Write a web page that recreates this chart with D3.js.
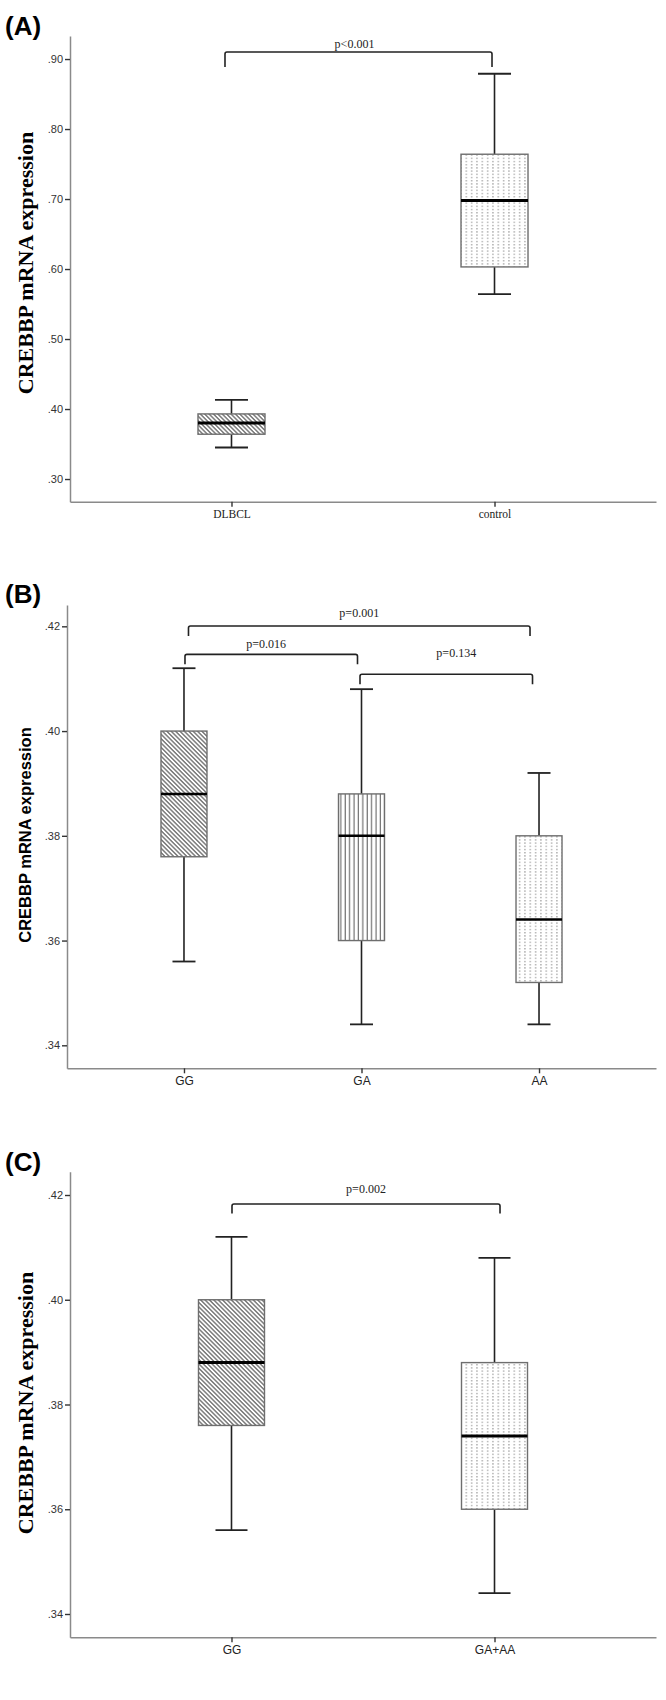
<!DOCTYPE html>
<html>
<head>
<meta charset="utf-8">
<script src="https://cdn.jsdelivr.net/npm/d3@7"></script>
<style>
  html, body { margin: 0; padding: 0; background: #fff; }
  svg { display: block; }
</style>
</head>
<body>
<svg id="chart" width="666" height="1700"></svg>
<script>
// ---------- DATA ----------
const catsA = ["DLBCL", "control"];
const minA  = [0.345, 0.564];
const q1A   = [0.364, 0.603];
const medA  = [0.380, 0.698];
const q3A   = [0.393, 0.764];
const maxA  = [0.413, 0.879];
const ticksA = [0.30, 0.40, 0.50, 0.60, 0.70, 0.80, 0.90];

const catsB = ["GG", "GA", "AA"];
const minB  = [0.356, 0.344, 0.344];
const q1B   = [0.376, 0.360, 0.352];
const medB  = [0.388, 0.380, 0.364];
const q3B   = [0.400, 0.388, 0.380];
const maxB  = [0.412, 0.408, 0.392];
const ticksB = [0.34, 0.36, 0.38, 0.40, 0.42];

const catsC = ["GG", "GA+AA"];
const minC  = [0.356, 0.344];
const q1C   = [0.376, 0.360];
const medC  = [0.388, 0.374];
const q3C   = [0.400, 0.388];
const maxC  = [0.412, 0.408];
const ticksC = [0.34, 0.36, 0.38, 0.40, 0.42];

const patternsA = ["diag", "dots"];
const patternsB = ["diag", "vert", "dots"];
const patternsC = ["diag", "dots"];

const bracketsA = [{ a: "DLBCL", b: "control", level: 0.910, textLevel: 0.9214, text: "p<0.001" }];
const bracketsB = [
  { a: "GG", b: "AA", level: 0.42006, textLevel: 0.42254, text: "p=0.001" },
  { a: "GG", b: "GA", level: 0.41465, textLevel: 0.41675, text: "p=0.016" },
  { a: "GA", b: "AA", level: 0.41084, textLevel: 0.41485, text: "p=0.134" }
];
const bracketsC = [{ a: "GG", b: "GA+AA", level: 0.41828, textLevel: 0.42115, text: "p=0.002" }];

const yTitle = "CREBBP mRNA expression";

// ---------- DRAW ----------
const svg = d3.select("#chart");
svg.append("rect").attr("width", 666).attr("height", 1700).attr("fill", "#fff");

const defs = svg.append("defs");
// diagonal hatch "\\"
const pd = defs.append("pattern").attr("id", "diag").attr("patternUnits", "userSpaceOnUse")
  .attr("width", 3.1).attr("height", 6).attr("patternTransform", "rotate(-45)");
pd.append("rect").attr("width", 3.1).attr("height", 6).attr("fill", "#fff");
pd.append("line").attr("x1", 0.8).attr("x2", 0.8).attr("y1", 0).attr("y2", 6)
  .attr("stroke", "#555").attr("stroke-width", 1.15);
// vertical lines
const pv = defs.append("pattern").attr("id", "vert").attr("patternUnits", "userSpaceOnUse")
  .attr("width", 4.4).attr("height", 4);
pv.append("rect").attr("width", 4.4).attr("height", 4).attr("fill", "#fff");
pv.append("line").attr("x1", 2).attr("x2", 2).attr("y1", 0).attr("y2", 4)
  .attr("stroke", "#555").attr("stroke-width", 1);
// dotted columns
const pdots = defs.append("pattern").attr("id", "dots").attr("patternUnits", "userSpaceOnUse")
  .attr("width", 5.33).attr("height", 3.2);
pdots.append("rect").attr("width", 5.33).attr("height", 3.2).attr("fill", "#fff");
pdots.append("rect").attr("x", 2).attr("y", 0.8).attr("width", 1.2).attr("height", 1.4).attr("fill", "#9a9a9a");

function drawPanel(cfg) {
  const g = svg.append("g");
  const y = d3.scaleLinear().domain(cfg.yDomain).range([cfg.bottom, cfg.top]);
  const x = d3.scalePoint().domain(cfg.cats).range([cfg.left, cfg.right]).padding(cfg.pad);

  // panel letter
  g.append("text").attr("x", 5).attr("y", cfg.letterY)
    .attr("font-family", "Liberation Sans, Arial, sans-serif").attr("font-weight", "bold")
    .attr("font-size", 26).attr("fill", "#000").text(cfg.letter);

  // y axis
  const yAxis = d3.axisLeft(y).tickValues(cfg.ticks)
    .tickFormat(d => d3.format(".2f")(d).replace(/^0/, "")).tickSize(5).tickSizeOuter(0).tickPadding(2);
  const ya = g.append("g").attr("transform", `translate(${cfg.left},0)`).call(yAxis);
  ya.select(".domain").attr("stroke", "#8a8a8a").attr("stroke-width", 1.5);
  ya.selectAll(".tick line").attr("stroke", "#333").attr("stroke-width", 1.4);
  ya.selectAll(".tick text").attr("font-family", "Liberation Sans Narrow, Arial Narrow, Liberation Sans, sans-serif")
    .attr("font-size", 11).attr("fill", "#333");

  // x axis
  const xAxis = d3.axisBottom(x).tickSize(5).tickSizeOuter(0).tickPadding(3);
  const xa = g.append("g").attr("transform", `translate(0,${cfg.bottom})`).call(xAxis);
  xa.select(".domain").attr("stroke", "#8a8a8a").attr("stroke-width", 1.5);
  xa.selectAll(".tick line").attr("stroke", "#333").attr("stroke-width", 1.4);
  xa.selectAll(".tick text").attr("font-family", cfg.catFont)
    .attr("font-size", cfg.catSize).attr("fill", "#222");

  // y title
  g.append("text")
    .attr("transform", `translate(${cfg.titleX},${cfg.titleY}) rotate(-90)`)
    .attr("text-anchor", "middle").attr("dominant-baseline", "central")
    .attr("font-family", cfg.titleFont).attr("font-weight", "bold")
    .attr("font-size", cfg.titleSize).attr("fill", "#000").text(yTitle);

  // boxes
  cfg.cats.forEach((c, i) => {
    const cx = x(c);
    const bg = g.append("g");
    // whiskers
    bg.append("line").attr("x1", cx).attr("x2", cx).attr("y1", y(cfg.max[i])).attr("y2", y(cfg.q3[i]))
      .attr("stroke", "#222").attr("stroke-width", 1.6);
    bg.append("line").attr("x1", cx).attr("x2", cx).attr("y1", y(cfg.q1[i])).attr("y2", y(cfg.min[i]))
      .attr("stroke", "#222").attr("stroke-width", 1.6);
    // caps
    [cfg.max[i], cfg.min[i]].forEach(v => {
      bg.append("line").attr("x1", cx - cfg.capW).attr("x2", cx + cfg.capW)
        .attr("y1", y(v)).attr("y2", y(v)).attr("stroke", "#222").attr("stroke-width", 1.8);
    });
    // box
    bg.append("rect").attr("x", cx - cfg.boxW).attr("width", 2 * cfg.boxW)
      .attr("y", y(cfg.q3[i])).attr("height", y(cfg.q1[i]) - y(cfg.q3[i]))
      .attr("fill", `url(#${cfg.patterns[i]})`).attr("stroke", "#6e6e6e").attr("stroke-width", 1.4);
    // median
    bg.append("line").attr("x1", cx - cfg.boxW).attr("x2", cx + cfg.boxW)
      .attr("y1", y(cfg.med[i])).attr("y2", y(cfg.med[i]))
      .attr("stroke", "#000").attr("stroke-width", cfg.medW);
  });

  // brackets
  cfg.brackets.forEach((b, k) => {
    const off = cfg.bracketOffsets[k];
    const x1 = x(b.a) + off[0], x2 = x(b.b) + off[1];
    const yy = y(b.level);
    const leg = cfg.legLen;
    g.append("path")
      .attr("d", `M${x1},${yy + leg} L${x1},${yy + 2} Q${x1},${yy} ${x1 + 2},${yy} L${x2 - 2},${yy} Q${x2},${yy} ${x2},${yy + 2} L${x2},${yy + leg}`)
      .attr("fill", "none").attr("stroke", "#222").attr("stroke-width", 1.6);
    g.append("text").attr("x", (x1 + x2) / 2 + off[2]).attr("y", y(b.textLevel))
      .attr("dy", "0.35em").attr("text-anchor", "middle")
      .attr("font-family", "Liberation Serif, Times New Roman, serif")
      .attr("font-size", 12).attr("fill", "#222").text(b.text);
  });
}

drawPanel({
  letter: "(A)", letterY: 35,
  cats: catsA, min: minA, q1: q1A, med: medA, q3: q3A, max: maxA, ticks: ticksA,
  patterns: patternsA, brackets: bracketsA,
  bracketOffsets: [[-6.5, -2.5, -4]], legLen: 15,
  yDomain: [0.2676, 0.9329], top: 36, bottom: 501.7,
  left: 70, right: 656, pad: 0.614,
  boxW: 33.5, capW: 16.5, medW: 3,
  catFont: "Liberation Serif, Times New Roman, serif", catSize: 11.5,
  titleFont: "Liberation Serif, Times New Roman, serif", titleSize: 22, titleX: 25, titleY: 263
});

drawPanel({
  letter: "(B)", letterY: 603,
  cats: catsB, min: minB, q1: q1B, med: medB, q3: q3B, max: maxB, ticks: ticksB,
  patterns: patternsB, brackets: bracketsB,
  bracketOffsets: [[4.5, -9, 0], [1, -4, -5], [-1.5, -6.5, 10]], legLen: 10,
  yDomain: [0.33561, 0.42407], top: 605, bottom: 1068.3,
  left: 67, right: 656, pad: 0.659,
  boxW: 23, capW: 11.5, medW: 2.5,
  catFont: "Liberation Sans, Arial, sans-serif", catSize: 12,
  titleFont: "Liberation Sans, Arial, sans-serif", titleSize: 16.5, titleX: 25, titleY: 835
});

drawPanel({
  letter: "(C)", letterY: 1171,
  cats: catsC, min: minC, q1: q1C, med: medC, q3: q3C, max: maxC, ticks: ticksC,
  patterns: patternsC, brackets: bracketsC,
  bracketOffsets: [[0.5, 5.5, 0]], legLen: 9.5,
  yDomain: [0.33555, 0.42445], top: 1171.7, bottom: 1637.3,
  left: 70, right: 656, pad: 0.614,
  boxW: 33, capW: 16, medW: 3,
  catFont: "Liberation Sans Narrow, Arial Narrow, Liberation Sans, sans-serif", catSize: 12,
  titleFont: "Liberation Serif, Times New Roman, serif", titleSize: 22, titleX: 25, titleY: 1403
});
</script>
</body>
</html>
